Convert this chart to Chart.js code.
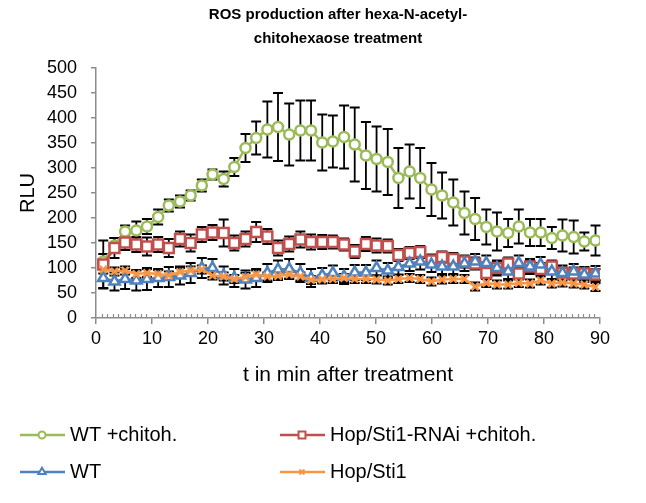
<!DOCTYPE html>
<html>
<head>
<meta charset="utf-8">
<script src="https://cdn.jsdelivr.net/npm/chart.js@4.4.1/dist/chart.umd.min.js"></script>
<style>
  html, body { margin: 0; padding: 0; background: #fff; }
  #wrap { width: 646px; height: 503px; }
</style>
</head>
<body>
<div id="wrap"><canvas id="chart" width="646" height="503"></canvas></div>
<script>
// sampling times (min after treatment)
const times = [1.3, 3.3, 5.2, 7.2, 9.1, 11.1, 13.0, 15.0, 16.9, 18.9, 20.8, 22.8, 24.7, 26.7, 28.6, 30.6,
  32.5, 34.5, 36.5, 38.4, 40.4, 42.3, 44.3, 46.2, 48.2, 50.1, 52.1, 54.0, 56.0, 57.9, 59.9, 61.8,
  63.8, 65.8, 67.7, 69.7, 71.6, 73.6, 75.5, 77.5, 79.4, 81.4, 83.3, 85.3, 87.2, 89.2];

const seriesNames = ["WT +chitoh.", "Hop/Sti1-RNAi +chitoh.", "WT", "Hop/Sti1"];

const wtChitoh = [113, 145, 173, 175, 183, 202, 225, 233, 245, 265, 287, 278, 302, 340, 360, 377,
  382, 367, 375, 375, 351, 353, 362, 347, 325, 318, 312, 280, 293, 280, 257, 245,
  231, 210, 198, 182, 173, 170, 183, 171, 171, 160, 165, 162, 153, 155];
const wtChitohErr = [15, 15, 12, 18, 15, 15, 12, 12, 10, 12, 10, 15, 18, 28, 33, 56,
  68, 62, 60, 60, 56, 52, 63, 74, 67, 65, 66, 60, 54, 60, 53, 46,
  46, 43, 42, 35, 38, 28, 34, 27, 27, 22, 32, 33, 18, 30];

const rnaiChitoh = [107, 140, 151, 147, 143, 147, 140, 158, 150, 167, 171, 170, 150, 158, 172, 163,
  140, 148, 157, 152, 152, 152, 147, 133, 148, 145, 144, 126, 130, 132, 115, 122,
  118, 113, 109, 90, 100, 109, 89, 103, 98, 103, 90, 89, 89, 87];
const rnaiChitohErr = [48, 20, 15, 15, 18, 15, 18, 15, 17, 15, 15, 27, 15, 15, 20, 15,
  15, 15, 16, 15, 14, 13, 12, 13, 14, 14, 13, 12, 12, 12, 12, 11,
  12, 12, 12, 12, 12, 12, 12, 12, 12, 12, 11, 12, 12, 11];

const wt = [80, 73, 78, 75, 78, 80, 82, 85, 90, 100, 100, 85, 80, 77, 80, 90,
  97, 98, 90, 80, 85, 90, 83, 91, 91, 100, 95, 102, 109, 113, 107, 103,
  103, 109, 113, 110, 100, 93, 110, 103, 107, 93, 90, 93, 87, 89];
const wtErr = [20, 18, 20, 20, 22, 18, 20, 18, 20, 20, 18, 18, 18, 18, 18, 18,
  18, 20, 18, 18, 15, 15, 15, 15, 15, 15, 15, 15, 15, 16, 15, 15,
  15, 15, 15, 15, 15, 15, 15, 15, 15, 15, 15, 15, 15, 15];

const hopSti1 = [97, 93, 95, 88, 90, 88, 85, 92, 95, 97, 85, 83, 78, 82, 87, 83,
  84, 87, 83, 76, 77, 78, 80, 78, 78, 77, 75, 78, 80, 78, 73, 77,
  78, 78, 63, 70, 67, 67, 70, 69, 75, 69, 71, 69, 67, 62];
const hopSti1Err = [8, 8, 8, 8, 8, 8, 8, 8, 8, 8, 8, 8, 8, 8, 8, 8,
  8, 8, 8, 8, 8, 8, 8, 8, 8, 8, 8, 8, 8, 8, 8, 8,
  8, 8, 8, 8, 8, 8, 8, 8, 8, 8, 8, 8, 8, 8];

const xMin = 0, xMax = 90, xStep = 10;
const yMin = 0, yMax = 500, yStep = 50;

const FONT = "'Liberation Sans', Arial, sans-serif";
const AXIS_GRAY = "#8c8c8c";

function pts(vals) {
  return vals.map((v, i) => ({ x: times[i], y: v }));
}

function makeSet(label, vals, errs, color, style, radius, order) {
  return {
    label: label,
    data: pts(vals),
    errors: errs,
    borderColor: color,
    backgroundColor: color,
    borderWidth: 2.5,
    pointStyle: style,
    pointRadius: radius,
    pointBorderColor: color,
    pointBackgroundColor: "#ffffff",
    pointBorderWidth: 2.5,
    tension: 0,
    order: order
  };
}

// error bars drawn under the series
const errorBars = {
  id: "errorBars",
  beforeDatasetsDraw(chart) {
    const ctx = chart.ctx;
    const xs = chart.scales.x, ys = chart.scales.y;
    ctx.save();
    ctx.setLineDash([]);
    ctx.strokeStyle = "#000";
    ctx.lineWidth = 1.8;
    chart.data.datasets.forEach((ds) => {
      ds.data.forEach((p, i) => {
        const e = ds.errors[i];
        const px = xs.getPixelForValue(p.x);
        const top = ys.getPixelForValue(p.y + e);
        const bot = ys.getPixelForValue(p.y - e);
        ctx.beginPath();
        ctx.moveTo(px, top); ctx.lineTo(px, bot);
        ctx.moveTo(px - 5, top); ctx.lineTo(px + 5, top);
        ctx.moveTo(px - 5, bot); ctx.lineTo(px + 5, bot);
        ctx.stroke();
      });
    });
    ctx.restore();
  }
};

// titles, minor ticks and legend
const decorations = {
  id: "decorations",
  afterDraw(chart) {
    const ctx = chart.ctx;
    const area = chart.chartArea;
    const xs = chart.scales.x;
    ctx.save();
    ctx.setLineDash([]);

    // minor ticks on x axis
    ctx.strokeStyle = AXIS_GRAY;
    ctx.lineWidth = 1.2;
    for (let v = xMin; v <= xMax; v++) {
      if (v % xStep === 0) continue;
      const px = Math.round(xs.getPixelForValue(v)) + 0.5;
      ctx.beginPath();
      ctx.moveTo(px, area.bottom);
      ctx.lineTo(px, area.bottom - 4);
      ctx.stroke();
    }

    // chart title
    ctx.fillStyle = "#000";
    ctx.textAlign = "center";
    ctx.textBaseline = "middle";
    ctx.font = "bold 15px " + FONT;
    ctx.fillText("ROS production after hexa-N-acetyl-", 338, 15);
    ctx.fillText("chitohexaose treatment", 338, 39);

    // axis titles
    ctx.font = "21px " + FONT;
    ctx.fillText("t in min after treatment", (area.left + area.right) / 2, 375);
    ctx.save();
    ctx.translate(28, (area.top + area.bottom) / 2);
    ctx.rotate(-Math.PI / 2);
    ctx.font = "20px " + FONT;
    ctx.fillText("RLU", 0, 0);
    ctx.restore();

    // legend, two columns
    const cols = [20, 280];
    const rows = [435, 472];
    chart.data.datasets.forEach((ds, i) => {
      const x0 = cols[i % 2];
      const y0 = rows[Math.floor(i / 2)];
      ctx.strokeStyle = ds.borderColor;
      ctx.lineWidth = 2.5;
      ctx.beginPath();
      ctx.moveTo(x0, y0);
      ctx.lineTo(x0 + 45, y0);
      ctx.stroke();
      ctx.fillStyle = "#ffffff";
      ctx.lineWidth = 2;
      Chart.helpers.drawPoint(ctx, { pointStyle: ds.pointStyle, radius: ds.pointRadius * 0.7, rotation: 0, borderWidth: 2 }, x0 + 22, y0);
      ctx.fillStyle = "#000";
      ctx.textAlign = "left";
      ctx.font = "20px " + FONT;
      ctx.fillText(ds.label, x0 + 50, y0);
    });
    ctx.restore();
  }
};

const datasets = [
  makeSet(seriesNames[0], wtChitoh, wtChitohErr, "#9bbb59", "circle", 5, 3),
  makeSet(seriesNames[1], rnaiChitoh, rnaiChitohErr, "#c0504d", "rect", 7, 2),
  makeSet(seriesNames[2], wt, wtErr, "#4f81bd", "triangle", 6, 1),
  makeSet(seriesNames[3], hopSti1, hopSti1Err, "#f79646", "crossRot", 5, 0)
];

new Chart(document.getElementById("chart"), {
  type: "line",
  data: { datasets: datasets },
  options: {
    responsive: false,
    animation: false,
    layout: { padding: { left: 0, right: 46, top: 68, bottom: 0 } },
    plugins: { legend: { display: false }, title: { display: false }, tooltip: { enabled: false } },
    scales: {
      x: {
        type: "linear",
        min: xMin, max: xMax,
        ticks: { stepSize: xStep, color: "#000", font: { family: FONT, size: 18 }, padding: 4, maxRotation: 0 },
        grid: { drawOnChartArea: false, drawTicks: true, tickLength: 6, color: AXIS_GRAY, lineWidth: 1.5 },
        border: { color: AXIS_GRAY, width: 1.5 },
        afterFit(scale) { scale.height = 185; }
      },
      y: {
        min: yMin, max: yMax,
        ticks: { stepSize: yStep, color: "#000", font: { family: FONT, size: 18 }, padding: 14 },
        grid: { drawOnChartArea: false, drawTicks: true, tickLength: 5, color: AXIS_GRAY, lineWidth: 1.5 },
        border: { color: AXIS_GRAY, width: 1.5 },
        afterFit(scale) { scale.width = 96; }
      }
    }
  },
  plugins: [errorBars, decorations]
});
</script>
</body>
</html>
